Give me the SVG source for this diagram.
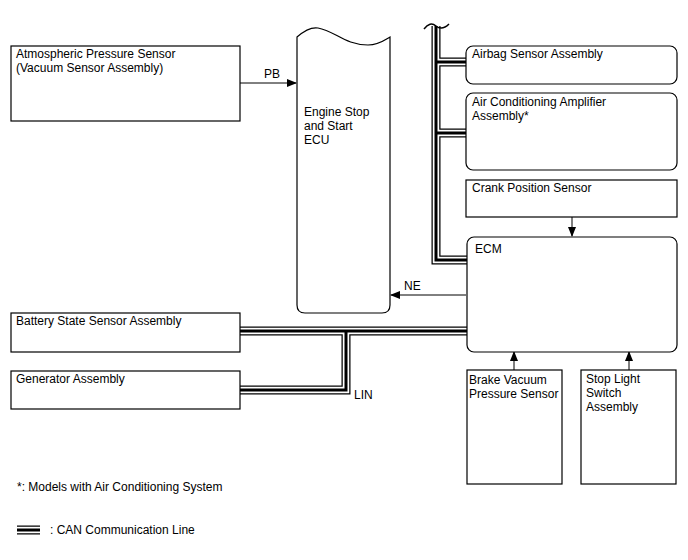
<svg xmlns="http://www.w3.org/2000/svg" width="688" height="560" viewBox="0 0 688 560">
<defs>
<marker id="ah" markerWidth="10" markerHeight="8" refX="9" refY="4" orient="auto" markerUnits="userSpaceOnUse">
<path d="M0,0 L10,4 L0,8 z" fill="#000"/>
</marker>
<style>
text{font-family:"Liberation Sans",Arial,sans-serif;font-size:12px;fill:#000}
.box{fill:#fff;stroke:#000;stroke-width:1.2}
.sig{fill:none;stroke:#000;stroke-width:1}
.b1{fill:none;stroke:#000;stroke-width:9}
.b2{fill:none;stroke:#fff;stroke-width:6.5}
.b3{fill:none;stroke:#000;stroke-width:3}
</style>
</defs>
<rect width="688" height="560" fill="#fff"/>

<g id="connectors">
<path class="sig" d="M240,83 H296" marker-end="url(#ah)"/>
<path class="sig" d="M466,295 H391" stroke="#666" marker-end="url(#ah)"/>
<path class="sig" d="M572,217 V236" marker-end="url(#ah)"/>
<path class="sig" d="M514,370 V352" marker-end="url(#ah)"/>
<path class="sig" d="M629,370 V352" marker-end="url(#ah)"/>
<g id="can-bus">
<path class="b1" d="M436,26 V260 H467 M436,62 H467 M436,133 H467 M240,331 H467 M346,331 V390 H240"/>
<path class="b2" d="M436,26 V260 H467 M436,62 H467 M436,133 H467 M240,331 H467 M346,331 V390 H240"/>
<path class="b3" d="M436,26 V260 H467 M436,62 H467 M436,133 H467 M240,331 H467 M346,331 V390 H240"/>
<path d="M424,29 q6,-8 12,-3 q6,5 13,-2" fill="none" stroke="#000" stroke-width="1.5"/>
</g>
<text x="264" y="78">PB</text>
<text x="404" y="290">NE</text>
<text x="354" y="399">LIN</text>
</g>

<g id="atmospheric">
<rect class="box" x="11" y="46" width="229" height="75"/>
<text x="16" y="58">Atmospheric Pressure Sensor</text>
<text x="16" y="72">(Vacuum Sensor Assembly)</text>
</g>

<g id="engine-stop-start-ecu">
<path class="box" d="M297,37 C305,30 312,27 318,28 C335,31 345,45 368,45 C378,45 385,40 390,37 V305 Q390,313 382,313 H305 Q297,313 297,305 Z"/>
<text x="304" y="116">Engine Stop</text>
<text x="304" y="130">and Start</text>
<text x="304" y="144">ECU</text>
</g>

<g id="airbag">
<rect class="box" x="466" y="46" width="211" height="38" rx="7"/>
<text x="472" y="58">Airbag Sensor Assembly</text>
</g>

<g id="ac-amplifier">
<rect class="box" x="466" y="93" width="211" height="77" rx="7"/>
<text x="472" y="106">Air Conditioning Amplifier</text>
<text x="472" y="120">Assembly*</text>
</g>

<g id="crank">
<rect class="box" x="466" y="180" width="211" height="37"/>
<text x="472" y="192">Crank Position Sensor</text>
</g>

<g id="ecm">
<rect class="box" x="467" y="237" width="210" height="115" rx="7"/>
<text x="475" y="253">ECM</text>
</g>

<g id="battery">
<rect class="box" x="11" y="313" width="229" height="39"/>
<text x="16" y="325">Battery State Sensor Assembly</text>
</g>

<g id="generator">
<rect class="box" x="11" y="371" width="229" height="38"/>
<text x="16" y="383">Generator Assembly</text>
</g>

<g id="brake-vacuum">
<rect class="box" x="467" y="370" width="95" height="114"/>
<text x="469" y="384">Brake Vacuum</text>
<text x="469" y="398">Pressure Sensor</text>
</g>

<g id="stop-light">
<rect class="box" x="581" y="370" width="95" height="114"/>
<text x="586" y="383">Stop Light</text>
<text x="586" y="397">Switch</text>
<text x="586" y="411">Assembly</text>
</g>

<g id="notes">
<text x="17" y="491">*: Models with Air Conditioning System</text>
<path class="b1" d="M17,530 H40"/>
<path class="b2" d="M17,530 H40"/>
<path class="b3" d="M17,530 H40"/>
<text x="50" y="534">: CAN Communication Line</text>
</g>
</svg>
